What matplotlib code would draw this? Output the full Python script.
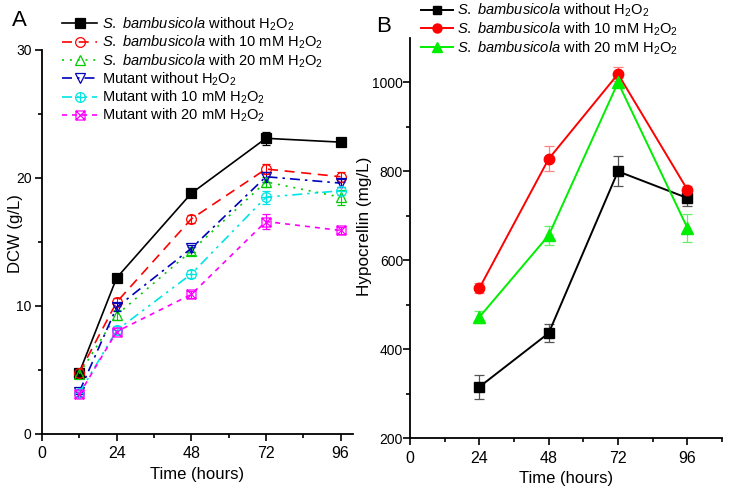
import numpy as np
import matplotlib
matplotlib.use("Agg")
import matplotlib.pyplot as plt
from matplotlib.path import Path
from matplotlib.lines import Line2D

plt.rcParams['font.family'] = ['Liberation Sans', 'DejaVu Sans']
plt.rcParams['mathtext.fontset'] = 'custom'
plt.rcParams['mathtext.rm'] = 'Liberation Sans'
plt.rcParams['mathtext.it'] = 'Liberation Sans:italic'

# ---------------- data ----------------
time_a = [12, 24, 48, 72, 96]
dcw_wt_0 = [4.8, 12.2, 18.8, 23.1, 22.8]
dcw_wt_10 = [4.8, 10.3, 16.8, 20.7, 20.1]
dcw_wt_20 = [4.7, 9.3, 14.3, 19.7, 18.5]
dcw_mut_0 = [3.3, 9.9, 14.5, 20.1, 19.6]
dcw_mut_10 = [3.2, 8.1, 12.5, 18.5, 19.0]
dcw_mut_20 = [3.1, 8.0, 10.9, 16.6, 15.9]
err_wt_0 = [0.3, 0.3, 0.3, 0.5, 0.2]
err_wt_10 = [0.3, 0.3, 0.3, 0.4, 0.4]
err_wt_20 = [0.3, 0.4, 0.3, 0.4, 0.6]
err_mut_0 = [0.2, 0.3, 0.3, 0.4, 0.3]
err_mut_10 = [0.2, 0.3, 0.3, 0.5, 0.3]
err_mut_20 = [0.2, 0.3, 0.3, 0.6, 0.3]

time_b = [24, 48, 72, 96]
hyp_0 = [315, 436, 800, 740]
hyp_10 = [537, 828, 1019, 759]
hyp_20 = [472, 656, 1000, 673]
herr_0 = [27, 21, 34, 18]
herr_10 = [11, 28, 16, 9]
herr_20 = [14, 21, 11, 32]

labels_a = [r"$\mathit{S.\ bambusicola}$ without H$_2$O$_2$",
            r"$\mathit{S.\ bambusicola}$ with 10 mM H$_2$O$_2$",
            r"$\mathit{S.\ bambusicola}$ with 20 mM H$_2$O$_2$",
            r"Mutant without H$_2$O$_2$",
            r"Mutant with 10 mM H$_2$O$_2$",
            r"Mutant with 20 mM H$_2$O$_2$"]
labels_b = labels_a[:3]

# ---------------- custom markers ----------------
circ = Path.unit_circle()
plus = Path([(-1, 0), (1, 0), (0, -1), (0, 1)],
            [Path.MOVETO, Path.LINETO, Path.MOVETO, Path.LINETO])
oplus = Path.make_compound_path(circ, plus)
sq = Path([(-1, -1), (1, -1), (1, 1), (-1, 1), (-1, -1)],
          [Path.MOVETO, Path.LINETO, Path.LINETO, Path.LINETO, Path.CLOSEPOLY])
xx = Path([(-1, -1), (1, 1), (-1, 1), (1, -1)],
          [Path.MOVETO, Path.LINETO, Path.MOVETO, Path.LINETO])
sqx = Path.make_compound_path(sq, xx)

fig = plt.figure(figsize=(7.31, 4.90), dpi=100)
axA = fig.add_axes([0.0575, 0.1143, 0.4254, 0.7837])
axB = fig.add_axes([0.5609, 0.1061, 0.4268, 0.8163])

styles_a = [
    dict(color='black', ls='-', marker='s', mfc='black', ms=6.5),
    dict(color='#ff0000', ls=(0, (6, 4)), marker='o', mfc='none', ms=7),
    dict(color='#00cc00', ls=(0, (1.2, 3.5)), marker='^', mfc='none', ms=7),
    dict(color='#0000bb', ls=(0, (6, 3, 1.5, 3)), marker='v', mfc='none', ms=7),
    dict(color='#00e5e5', ls=(0, (6, 3, 1.5, 3, 1.5, 3)), marker=oplus, mfc='none', ms=7),
    dict(color='#ff00ff', ls=(0, (3, 3)), marker=sqx, mfc='none', ms=6.5),
]
series_a = [dcw_wt_0, dcw_wt_10, dcw_wt_20, dcw_mut_0, dcw_mut_10, dcw_mut_20]
errs_a = [err_wt_0, err_wt_10, err_wt_20, err_mut_0, err_mut_10, err_mut_20]

handles_a = []
for y, e, st, lab in zip(series_a, errs_a, styles_a, labels_a):
    axA.errorbar(time_a, y, yerr=e, color=st['color'], ls=st['ls'], lw=1.2,
                 marker=st['marker'], mfc=st['mfc'], mec=st['color'], ms=st['ms'],
                 mew=0.9, capsize=3, elinewidth=0.8, capthick=0.8)
    handles_a.append(Line2D([], [], color=st['color'], ls=st['ls'], lw=1.2,
                            marker=st['marker'], mfc=st['mfc'], mec=st['color'],
                            ms=st['ms'], mew=0.9, label=lab))

axA.set_xlim(0, 100)
axA.set_ylim(0, 30)
axA.set_xticks([0, 24, 48, 72, 96])
axA.set_xticks([12, 36, 60, 84], minor=True)
axA.set_yticks([0, 10, 20, 30])
axA.set_yticks([5, 15, 25], minor=True)
axA.set_xlabel("Time (hours)", fontsize=12, labelpad=4)
axA.set_ylabel("DCW (g/L)", fontsize=12)
axA.yaxis.set_label_coords((23 - 42) / 311, (434 - 234) / 384)

styles_b = [
    dict(color='black', marker='s', ms=7),
    dict(color='#ff0000', marker='o', ms=7.5),
    dict(color='#00ee00', marker='^', ms=8),
]
series_b = [hyp_0, hyp_10, hyp_20]
errs_b = [herr_0, herr_10, herr_20]
ecols = ['#555555', '#ff8080', '#66ee66']
handles_b = []
for y, e, st, lab, ec in zip(series_b, errs_b, styles_b, labels_b, ecols):
    axB.errorbar(time_b, y, yerr=e, color=st['color'], ls='-', lw=1.4,
                 marker=st['marker'], ms=st['ms'], mec=st['color'], mfc=st['color'],
                 capsize=3.5, elinewidth=0.9, capthick=0.9, ecolor=ec)
    handles_b.append(Line2D([], [], color=st['color'], ls='-', lw=1.4,
                            marker=st['marker'], ms=st['ms'] - 1, mec=st['color'],
                            mfc=st['color'], label=lab))

axB.set_xlim(0, 108)
axB.set_ylim(200, 1100)
axB.set_xticks([0, 24, 48, 72, 96])
axB.set_xticks([12, 36, 60, 84, 108], minor=True)
axB.set_yticks([200, 400, 600, 800, 1000])
axB.set_yticks([300, 500, 700, 900], minor=True)
axB.set_xlabel("Time (hours)", fontsize=12, labelpad=4)
axB.set_ylabel("Hypocrellin (mg/L)", fontsize=12.3)
axB.yaxis.set_label_coords((372 - 410) / 312, (438 - 226) / 400)

for ax in (axA, axB):
    for s in ('top', 'right'):
        ax.spines[s].set_visible(False)
    for s in ('left', 'bottom'):
        ax.spines[s].set_linewidth(1.3)
    ax.tick_params(which='major', direction='out', length=5, width=1.2)
    ax.tick_params(which='minor', direction='out', length=3, width=1.2)
    ax.tick_params(axis='x', which='major', labelsize=11.5, pad=4)

axA.tick_params(axis='y', which='major', labelsize=10, pad=2.5)
axB.tick_params(axis='y', which='major', labelsize=10, pad=0)

axA.legend(handles=handles_a, loc='upper left', bbox_to_anchor=(0.065, 1.0896),
           frameon=False, fontsize=10.5, handlelength=2.4, handletextpad=0.3,
           labelspacing=0.06, borderaxespad=0, borderpad=0)
axB.legend(handles=handles_b, loc='upper left', bbox_to_anchor=(0.035, 1.091),
           frameon=False, fontsize=10.5, handlelength=2.2, handletextpad=0.3,
           labelspacing=0.1, borderaxespad=0, borderpad=0)

fig.text(12 / 731, 1 - 21 / 490, "A", fontsize=16, va='center', ha='left')
fig.text(376 / 731, 1 - 26 / 490, "B", fontsize=16, va='center', ha='left')

fig.savefig("out.png", dpi=100)
